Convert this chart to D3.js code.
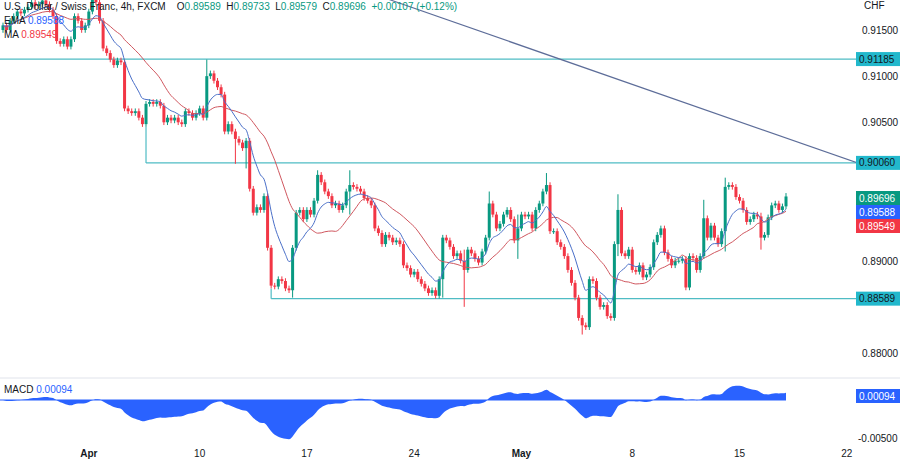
<!DOCTYPE html>
<html><head><meta charset="utf-8">
<script src="https://cdn.jsdelivr.net/npm/d3@7"></script>
<style>body{margin:0;background:#fff}svg{display:block;font-family:"Liberation Sans",Arial,sans-serif}</style>
</head><body><svg id="c" width="900" height="461"></svg>
<script>
const closes=[0.9155,0.9150,0.9160,0.9165,0.9170,0.9168,0.9172,0.9175,0.9180,0.9176,
0.9178,0.9182,0.9178,0.9172,0.9165,0.9138,0.9135,0.9140,0.9132,0.9140,
0.9165,0.9160,0.9150,0.9155,0.9170,0.9183,0.9180,0.9160,0.9130,0.9125,
0.9118,0.9112,0.9117,0.9115,0.9065,0.9062,0.9060,0.9062,0.9055,0.9048,
0.9070,0.9072,0.9070,0.9072,0.9068,0.9050,0.9055,0.9052,0.9055,0.9050,
0.9048,0.9062,0.9060,0.9055,0.9060,0.9065,0.9055,0.9100,0.9103,0.9095,
0.9088,0.9080,0.9040,0.9048,0.9040,0.9032,0.9028,0.9022,0.9030,0.8978,
0.8952,0.8958,0.8955,0.8970,0.8914,0.8873,0.8872,0.8880,0.8878,0.8870,
0.8868,0.8914,0.8952,0.8955,0.8945,0.8955,0.8950,0.8965,0.8993,0.8985,
0.8975,0.8970,0.8960,0.8962,0.8955,0.8960,0.8975,0.8982,0.8980,0.8978,
0.8975,0.8968,0.8965,0.8960,0.8935,0.8930,0.8918,0.8928,0.8925,0.8920,
0.8922,0.8918,0.8895,0.8892,0.8885,0.8888,0.8880,0.8875,0.8870,0.8865,
0.8868,0.8862,0.8880,0.8925,0.8922,0.8915,0.8905,0.8908,0.8900,0.8890,
0.8912,0.8908,0.8902,0.8898,0.8910,0.8925,0.8962,0.8950,0.8935,0.8940,
0.8950,0.8955,0.8945,0.8922,0.8935,0.8950,0.8948,0.8950,0.8935,0.8955,
0.8962,0.8975,0.8982,0.8932,0.8932,0.8920,0.8915,0.8905,0.8890,0.8876,
0.8860,0.8838,0.8830,0.8828,0.8880,0.8878,0.8860,0.8850,0.8852,0.8840,
0.8838,0.8918,0.8955,0.8908,0.8905,0.8912,0.8890,0.8888,0.8895,0.8882,
0.8885,0.8893,0.8920,0.8928,0.8935,0.8909,0.8902,0.8895,0.8900,0.8900,
0.8902,0.8871,0.8905,0.8903,0.8890,0.8905,0.8946,0.8925,0.8938,0.8925,
0.8918,0.8932,0.8980,0.8982,0.8980,0.8969,0.8965,0.8955,0.8942,0.8945,
0.8950,0.8948,0.8925,0.8928,0.8947,0.8960,0.8962,0.8955,0.89589,0.89696];
const firstOpen=0.9150;
// notable wicks: [index, high, low]
const wicks=[[57,0.9118,0.9055],[65,0.9035,0.9005],[68,0.9032,0.9000],[81,0.8914,0.8860],[88,0.8998,0.8965],
[97,0.8998,0.8950],[123,0.8926,0.8860],[129,0.8912,0.8850],[136,0.8975,0.8958],[144,0.8950,0.8902],
[152,0.8995,0.8975],[162,0.8838,0.8820],[172,0.8972,0.8905],[196,0.8966,0.8905],[202,0.8990,0.8910],
[212,0.8952,0.8912],[219,0.89733,0.89579]];
const monthTicks=[[24,"Apr"],[55,"10"],[85,"17"],[115,"24"],[145,"May"],[176,"8"],[206,"15"],[236,"22"]];
const priceTicks=[0.915,0.910,0.905,0.890,0.880];
const levels=[[0,0.91185],[40,0.9006],[75,0.88589]];
const trend=[[108,0.9183],[239,0.9006]];
const macdTicks=[-0.005];

const svg=d3.select("#c");
const N=closes.length;
const FS=10;
const x=d3.scaleLinear().domain([0,N-1]).range([3,786]);
const y=d3.scaleLinear().domain([0.880,0.915]).range([353,30]);
const ym=d3.scaleLinear().domain([-0.005,0]).range([438,400]);
const G="#089981",R="#f23645",B="#2962ff",L="#4fbcc4";
const data=closes.map((c,i)=>{const o=i?closes[i-1]:firstOpen;return{i,o,c,h:Math.max(o,c)+0.0003,l:Math.min(o,c)-0.0003};});
wicks.filter(w=>w[0]<N).forEach(([i,h,l])=>{data[i].h=Math.max(h,data[i].h);data[i].l=Math.min(l,data[i].l);});

const ema=[];const k=2/10;closes.forEach((c,i)=>ema.push(i?c*k+ema[i-1]*(1-k):c));
const ma=closes.map((c,i)=>d3.mean(closes.slice(Math.max(0,i-19),i+1)));
function emaN(n){const a=[],kk=2/(n+1);closes.forEach((c,i)=>a.push(i?c*kk+a[i-1]*(1-kk):0.9165));return a;}
const e12=emaN(12),e26=emaN(26);const macd=closes.map((c,i)=>e12[i]-e26[i]);

svg.append("clipPath").attr("id","cp").append("rect").attr("x",0).attr("y",0).attr("width",856).attr("height",377);
const g=svg.append("g").attr("clip-path","url(#cp)");
levels.forEach(([i,p])=>{
  g.append("line").attr("x1",i?x(i):0).attr("x2",856).attr("y1",y(p)).attr("y2",y(p)).attr("stroke",L).attr("stroke-width",1.2);
  if(i) g.append("line").attr("x1",x(i)).attr("x2",x(i)).attr("y1",y(data[i].l)).attr("y2",y(p)).attr("stroke",L).attr("stroke-width",1.2);
});
g.append("line").attr("x1",x(trend[0][0])).attr("y1",y(trend[0][1])).attr("x2",x(trend[1][0])).attr("y2",y(trend[1][1])).attr("stroke","#5d6d99").attr("stroke-width",1.2);
const cg=g.selectAll(".cd").data(data).enter().append("g");
cg.append("line").attr("x1",d=>x(d.i)).attr("x2",d=>x(d.i)).attr("y1",d=>y(d.h)).attr("y2",d=>y(d.l)).attr("stroke",d=>d.c>=d.o?G:R).attr("stroke-width",1);
cg.append("rect").attr("x",d=>x(d.i)-1.5).attr("width",3).attr("y",d=>y(Math.max(d.o,d.c))).attr("height",d=>Math.max(1,Math.abs(y(d.o)-y(d.c)))).attr("fill",d=>d.c>=d.o?G:R);
const ln=d3.line().x((d,i)=>x(i)).y(d=>y(d)).curve(d3.curveMonotoneX);
g.append("path").attr("d",ln(ma)).attr("fill","none").attr("stroke","#d0575f").attr("stroke-width",1);
g.append("path").attr("d",ln(ema)).attr("fill","none").attr("stroke","#4a6fc8").attr("stroke-width",1);

const hd=svg.append("text").attr("x",4).attr("y",10).attr("font-size",FS).attr("fill","#131722").attr("xml:space","preserve");
hd.append("tspan").text("U.S. Dollar / Swiss Franc, 4h, FXCM  ");
[["O","0.89589"],["H","0.89733"],["L","0.89579"],["C","0.89696"]].forEach(([a,b])=>{hd.append("tspan").text("  "+a);hd.append("tspan").attr("fill",G).text(b);});
hd.append("tspan").attr("fill",G).text("  +0.00107 (+0.12%)");
const t2=svg.append("text").attr("x",4).attr("y",24).attr("font-size",FS).attr("fill","#131722");t2.append("tspan").text("EMA ");t2.append("tspan").attr("fill",B).text("0.89588");
const t3=svg.append("text").attr("x",4).attr("y",38).attr("font-size",FS).attr("fill","#131722");t3.append("tspan").text("MA ");t3.append("tspan").attr("fill",R).text("0.89549");

svg.append("text").attr("x",864).attr("y",9).attr("font-size",FS).attr("fill","#131722").text("CHF");
priceTicks.forEach(p=>svg.append("text").attr("x",862).attr("y",y(p)+4).attr("font-size",FS).attr("fill","#131722").text(p.toFixed(5)));
function badge(p,yy,bg,fg){svg.append("rect").attr("x",856).attr("y",yy-7).attr("width",44).attr("height",14).attr("fill",bg);
 svg.append("text").attr("x",859).attr("y",yy+3.5).attr("font-size",FS).attr("fill",fg).text(p);}
levels.forEach(([i,p])=>badge(p.toFixed(5),y(p),"#22b8cc","#131722"));
badge("0.89696",198,G,"#fff");badge("0.89588",212,B,"#fff");badge("0.89549",226,R,"#fff");

svg.append("line").attr("x1",0).attr("x2",900).attr("y1",378).attr("y2",378).attr("stroke","#e0e3eb");
svg.append("path").attr("d",d3.area().x((d,i)=>x(i)).y0(ym(0)).y1(d=>ym(d)).curve(d3.curveMonotoneX)(macd)).attr("fill","#2a62ff");
svg.append("line").attr("x1",0).attr("x2",x(N-1)).attr("y1",ym(0)).attr("y2",ym(0)).attr("stroke","#2a62ff");
const tm=svg.append("text").attr("x",4).attr("y",393).attr("font-size",FS).attr("fill","#131722");tm.append("tspan").text("MACD ");tm.append("tspan").attr("fill",B).text("0.00094");
macdTicks.forEach(v=>svg.append("text").attr("x",858).attr("y",ym(v)+4).attr("font-size",FS).attr("fill","#131722").text(v.toFixed(5)));
badge("0.00094",ym(0)-4,B,"#fff");

monthTicks.forEach(([i,t])=>svg.append("text").attr("x",x(i)).attr("y",457).attr("text-anchor","middle").attr("font-size",FS)
 .attr("font-weight",isNaN(+t)?"bold":"normal").attr("fill","#131722").text(t));
</script></body></html>
